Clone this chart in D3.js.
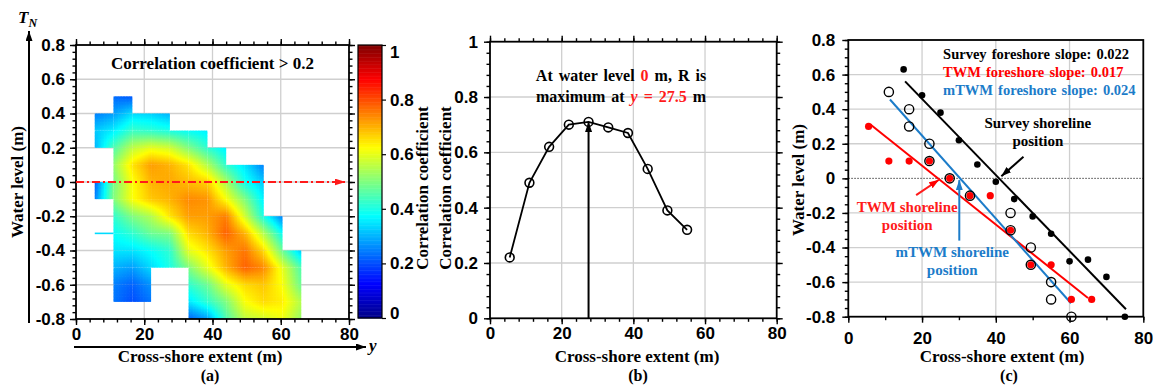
<!DOCTYPE html>
<html><head><meta charset="utf-8">
<script src="https://cdn.jsdelivr.net/npm/d3@7"></script>
<style>
body{margin:0;background:#fff;overflow:hidden;}
svg{display:block;font-family:"Liberation Serif","Times New Roman",serif;font-weight:bold;}
</style></head><body>
<svg id="fig" width="1153" height="385"></svg>
<script>
// ---------- (a) correlation map: water level (rows) x cross-shore extent (columns) ----------
const extents = [5.5, 11, 16.5, 22, 27.5, 33, 38.5, 44, 49.5, 55, 60.5, 66];
const levels = [0.5, 0.4, 0.3, 0.2, 0.1, 0, -0.1, -0.2, -0.3, -0.4, -0.5, -0.6, -0.7, -0.8];
const corrP05 = [null, 0.23, 0.21, null, null, null, null, null, null, null, null, null];
const corrP04 = [0.25, 0.28, 0.34, 0.33, 0.30, null, null, null, null, null, null, null];
const corrP03 = [0.32, 0.36, 0.43, 0.42, 0.40, 0.38, 0.36, null, null, null, null, null];
const corrP02 = [0.30, 0.45, 0.56, 0.60, 0.58, 0.50, 0.42, 0.36, null, null, null, null];
const corrP01 = [null, 0.52, 0.65, 0.72, 0.70, 0.65, 0.55, 0.42, 0.35, 0.25, null, null];
const corr000 = [0.22, 0.49, 0.62, 0.70, 0.71, 0.69, 0.67, 0.54, 0.39, 0.32, null, null];
const corrM01 = [0.25, 0.50, 0.62, 0.68, 0.70, 0.74, 0.73, 0.62, 0.50, 0.36, null, null];
const corrM02 = [null, 0.42, 0.50, 0.55, 0.65, 0.72, 0.72, 0.75, 0.58, 0.40, 0.25, null];
const corrM03 = [0.30, 0.38, 0.42, 0.48, 0.50, 0.66, 0.70, 0.78, 0.70, 0.55, 0.38, null];
const corrM04 = [null, 0.35, 0.35, 0.38, 0.42, 0.60, 0.65, 0.72, 0.76, 0.66, 0.48, 0.32];
const corrM05 = [null, 0.30, 0.28, 0.34, 0.40, 0.50, 0.60, 0.70, 0.78, 0.74, 0.60, 0.45];
const corrM06 = [null, 0.25, 0.22, 0.27, null, 0.42, 0.48, 0.60, 0.66, 0.68, 0.62, 0.48];
const corrM07 = [null, 0.24, 0.20, 0.24, null, 0.35, 0.42, 0.50, 0.62, 0.66, 0.64, 0.55];
const corrM08 = [null, null, null, null, null, 0.22, 0.28, 0.45, 0.56, 0.58, 0.61, 0.52];
const corrGrid = [corrP05, corrP04, corrP03, corrP02, corrP01, corr000, corrM01,
                  corrM02, corrM03, corrM04, corrM05, corrM06, corrM07, corrM08];
const colorTicks = [0, 0.2, 0.4, 0.6, 0.8, 1];

// ---------- (b) correlation profile at water level 0 m ----------
const profileX = [5.5, 11, 16.5, 22, 27.5, 33, 38.5, 44, 49.5, 55];
const profileR = [0.22, 0.49, 0.62, 0.70, 0.71, 0.69, 0.67, 0.54, 0.39, 0.32];
const peakExtent = 27.5;

// ---------- (c) shoreline points and fitted foreshore slopes ----------
const surveyX = [15, 20, 25, 30, 35, 40, 45, 50, 55, 60, 65, 70, 75];
const surveyZ = [0.63, 0.48, 0.38, 0.22, 0.08, -0.02, -0.12, -0.22, -0.32, -0.48, -0.47, -0.57, -0.80];
const twmX = [5.5, 11, 16.5, 22, 27.5, 33, 38.5, 44, 49.5, 55, 60.5, 66];
const twmZ = [0.3, 0.1, 0.1, 0.1, 0, -0.1, -0.1, -0.3, -0.5, -0.5, -0.7, -0.7];
const mtwmX = [11, 16.5, 16.5, 22, 22, 27.5, 33, 44, 44, 49.5, 49.5, 55, 55, 60.5];
const mtwmZ = [0.5, 0.4, 0.3, 0.2, 0.1, 0, -0.1, -0.2, -0.3, -0.4, -0.5, -0.6, -0.7, -0.8];
const fitNames = ["Survey", "TWM", "mTWM"];
const fitSlope = [0.022, 0.017, 0.024];
const fitShoreline = [40.9, 24.3, 30.3];
const fitStart = [15.4, 6, 11.3];
const fitEnd = [75.3, 65, 60.4];
const fitColor = ["#000000", "#ff0000", "#1c7cc9"];

const svg = d3.select("#fig");
const FS = 17;
const gridColor = "#cfcfcf";

// arrow heads
const defs = svg.append("defs");
function marker(id, color, w, h) {
  defs.append("marker").attr("id", id).attr("viewBox", `0 0 ${w} ${h}`)
    .attr("refX", w).attr("refY", h / 2).attr("markerWidth", w).attr("markerHeight", h)
    .attr("markerUnits", "userSpaceOnUse").attr("orient", "auto")
    .append("path").attr("d", `M0,0L${w},${h / 2}L0,${h}Z`).attr("fill", color);
}
marker("ahBlack", "#000", 10, 7);
marker("ahRed", "#ff1a1a", 11, 7);
marker("ahBlue", "#1c7cc9", 10, 7);
marker("ahRedC", "#ff0000", 10, 7);

const fmt = d => String(+(+d).toFixed(1));

// gridlines behind a panel
function frame(g, x, y, o) {
  g.append("g").selectAll("line").data(o.gridX).join("line")
    .attr("x1", d => x(d)).attr("x2", d => x(d)).attr("y1", y.range()[0]).attr("y2", y.range()[1])
    .attr("stroke", gridColor).attr("stroke-width", 1.3);
  g.append("g").selectAll("line").data(o.gridY).join("line")
    .attr("y1", d => y(d)).attr("y2", d => y(d)).attr("x1", x.range()[0]).attr("x2", x.range()[1])
    .attr("stroke", gridColor).attr("stroke-width", 1.3);
}
// ticks, labels and box of a panel
function axes(g, x, y, o) {
  const [x0, x1] = x.range(), [y0, y1] = y.range();
  const style = sel => {
    sel.select(".domain").remove();
    sel.selectAll("line").attr("stroke", "#000").attr("stroke-width", 1.4);
    sel.selectAll("text").attr("font-size", FS).attr("font-family", null).attr("fill", "#000");
  };
  g.append("g").attr("transform", `translate(0,${y0})`)
    .call(d3.axisBottom(x).tickValues(o.minorX).tickSize(3.5).tickFormat("")).call(style);
  g.append("g").attr("transform", `translate(0,${y0})`)
    .call(d3.axisBottom(x).tickValues(o.majorX).tickSize(6).tickPadding(o.padX).tickFormat(fmt)).call(style);
  g.append("g").attr("transform", `translate(${x0},0)`)
    .call(d3.axisLeft(y).tickValues(o.minorY).tickSize(3.5).tickFormat("")).call(style);
  g.append("g").attr("transform", `translate(${x0},0)`)
    .call(d3.axisLeft(y).tickValues(o.majorY).tickSize(6).tickPadding(o.padY).tickFormat(fmt)).call(style);
  if (o.mirror) {
    g.append("g").attr("transform", `translate(0,${y1})`)
      .call(d3.axisTop(x).tickValues(o.minorX).tickSize(3.5).tickFormat("")).call(style);
    g.append("g").attr("transform", `translate(0,${y1})`)
      .call(d3.axisTop(x).tickValues(o.majorX).tickSize(6).tickFormat("")).call(style);
    g.append("g").attr("transform", `translate(${x1},0)`)
      .call(d3.axisRight(y).tickValues(o.minorY).tickSize(3.5).tickFormat("")).call(style);
    g.append("g").attr("transform", `translate(${x1},0)`)
      .call(d3.axisRight(y).tickValues(o.majorY).tickSize(6).tickFormat("")).call(style);
  }
  g.append("rect").attr("x", x0).attr("y", y1).attr("width", x1 - x0).attr("height", y0 - y1)
    .attr("fill", "none").attr("stroke", "#000").attr("stroke-width", 1.8);
}
const range = (a, b, s) => d3.range(Math.round((b - a) / s) + 1).map(k => +(a + k * s).toFixed(4));

// ================= (a) =================
const xA = d3.scaleLinear([0, 80], [76, 349]);
const yA = d3.scaleLinear([-0.8, 0.8], [319, 45]);
const gA = svg.append("g");
frame(gA, xA, yA, { gridX: [20, 40, 60], gridY: [-0.6, -0.4, -0.2, 0, 0.2, 0.4, 0.6] });

const jet = d3.scaleLinear().domain([0, 0.125, 0.375, 0.625, 0.875, 1])
  .range(["#000085", "#0000ff", "#00ffff", "#ffff00", "#ff0000", "#800000"]).clamp(true);

const cellOk = (j, i) => j >= 0 && j < levels.length - 1 && i >= 0 && i < extents.length - 1 &&
  [corrGrid[j][i], corrGrid[j][i + 1], corrGrid[j + 1][i], corrGrid[j + 1][i + 1]].every(v => v != null);

// each grid cell with four valid corners is filled by bilinear interpolation
const SUB = 12;
const pieces = [];
for (let j = 0; j < levels.length - 1; j++) {
  for (let i = 0; i < extents.length - 1; i++) {
    if (!cellOk(j, i)) continue;
    const v00 = corrGrid[j][i], v10 = corrGrid[j][i + 1], v01 = corrGrid[j + 1][i], v11 = corrGrid[j + 1][i + 1];
    for (let a = 0; a < SUB; a++) for (let b = 0; b < SUB; b++) {
      const u = (a + 0.5) / SUB, w = (b + 0.5) / SUB;
      const v = v00 * (1 - u) * (1 - w) + v10 * u * (1 - w) + v01 * (1 - u) * w + v11 * u * w;
      pieces.push({
        x0: extents[i] + (extents[i + 1] - extents[i]) * a / SUB,
        x1: extents[i] + (extents[i + 1] - extents[i]) * (a + 1) / SUB,
        y0: levels[j] + (levels[j + 1] - levels[j]) * b / SUB,
        y1: levels[j] + (levels[j + 1] - levels[j]) * (b + 1) / SUB,
        v, lastA: a === SUB - 1, lastB: b === SUB - 1
      });
    }
  }
}
gA.append("g").selectAll("rect").data(pieces).join("rect")
  .attr("x", d => xA(d.x0)).attr("y", d => yA(d.y0))
  .attr("width", d => xA(d.x1) - xA(d.x0) + (d.lastA ? 0 : 0.6))
  .attr("height", d => yA(d.y1) - yA(d.y0) + (d.lastB ? 0 : 0.6))
  .attr("fill", d => jet(d.v));

// isolated horizontal runs of valid nodes
const strands = [];
for (let j = 0; j < levels.length; j++) for (let i = 0; i < extents.length - 1; i++) {
  const a = corrGrid[j][i], b = corrGrid[j][i + 1];
  if (a != null && b != null && !cellOk(j - 1, i) && !cellOk(j, i)) strands.push({ i, j, v: (a + b) / 2 });
}
gA.append("g").selectAll("line").data(strands).join("line")
  .attr("x1", d => xA(extents[d.i])).attr("x2", d => xA(extents[d.i + 1]))
  .attr("y1", d => yA(levels[d.j])).attr("y2", d => yA(levels[d.j]))
  .attr("stroke", d => jet(d.v)).attr("stroke-width", 1.6);

axes(gA, xA, yA, {
  majorX: [0, 20, 40, 60, 80], minorX: range(0, 80, 4),
  majorY: range(-0.8, 0.8, 0.2), minorY: range(-0.8, 0.8, 0.04), padX: 3, padY: 5, mirror: true
});

// water level 0 m reference
gA.append("line").attr("x1", xA(0)).attr("x2", xA(79)).attr("y1", yA(0)).attr("y2", yA(0))
  .attr("stroke", "#ff1a1a").attr("stroke-width", 1.8).attr("stroke-dasharray", "8,3,2,3")
  .attr("marker-end", "url(#ahRed)");

gA.append("text").attr("x", xA(40)).attr("y", 69).attr("text-anchor", "middle")
  .attr("font-size", FS).text("Correlation coefficient > 0.2");

// coordinate arrows
svg.append("line").attr("x1", 29).attr("x2", 29).attr("y1", 323).attr("y2", 31)
  .attr("stroke", "#000").attr("stroke-width", 2).attr("marker-end", "url(#ahBlack)");
svg.append("line").attr("x1", 74).attr("x2", 366).attr("y1", 347).attr("y2", 347)
  .attr("stroke", "#000").attr("stroke-width", 2).attr("marker-end", "url(#ahBlack)");
const tn = svg.append("text").attr("x", 18).attr("y", 23).attr("font-size", FS).attr("font-style", "italic");
tn.append("tspan").text("T");
tn.append("tspan").attr("font-size", 12).attr("dy", 4).text("N");
svg.append("text").attr("x", 369).attr("y", 351).attr("font-size", FS).attr("font-style", "italic").text("y");

svg.append("text").attr("transform", "translate(17,182) rotate(-90)").attr("dy", "0.35em")
  .attr("text-anchor", "middle").attr("font-size", FS).text("Water level (m)");
svg.append("text").attr("x", 200).attr("y", 362).attr("text-anchor", "middle").attr("font-size", FS)
  .text("Cross-shore extent (m)");
svg.append("text").attr("x", 210).attr("y", 381).attr("text-anchor", "middle").attr("font-size", 16).text("(a)");

// colour bar
const cS = d3.scaleLinear([0, 1], [318, 45]);
const cbar = svg.append("g");
const steps = d3.range(0, 1, 1 / 200);
cbar.selectAll("rect").data(steps).join("rect")
  .attr("x", 358).attr("width", 24).attr("y", d => cS(d + 1 / 200)).attr("height", cS(0) - cS(1 / 200) + 0.5)
  .attr("fill", d => jet(d + 1 / 400));
cbar.append("rect").attr("x", 358).attr("y", 45).attr("width", 24).attr("height", 273)
  .attr("fill", "none").attr("stroke", "#000").attr("stroke-width", 1.2);
const cAx = cbar.append("g").attr("transform", "translate(382,0)")
  .call(d3.axisRight(cS).tickValues(colorTicks).tickSize(4).tickPadding(4).tickFormat(fmt));
cAx.select(".domain").remove();
cAx.selectAll("line").attr("stroke", "#000").attr("stroke-width", 1.2);
cAx.selectAll("text").attr("font-size", FS).attr("font-family", null)
  .attr("y", d => d === 1 ? 7 : d === 0 ? -5 : 0);

// ================= (b) =================
const xB = d3.scaleLinear([0, 80], [490, 776.7]);
const yB = d3.scaleLinear([0, 1], [318.3, 41.7]);
const gB = svg.append("g");
frame(gB, xB, yB, { gridX: [20, 40, 60], gridY: [0.2, 0.4, 0.6, 0.8] });
axes(gB, xB, yB, {
  majorX: [0, 20, 40, 60, 80], minorX: range(0, 80, 4),
  majorY: [0, 0.2, 0.4, 0.6, 0.8, 1], minorY: range(0, 1, 0.04), padX: 3, padY: 6, mirror: true
});
const pts = profileX.map((x, k) => [x, profileR[k]]);
gB.append("path").attr("d", d3.line().x(d => xB(d[0])).y(d => yB(d[1]))(pts))
  .attr("fill", "none").attr("stroke", "#000").attr("stroke-width", 1.8);
gB.append("line").attr("x1", xB(peakExtent)).attr("x2", xB(peakExtent))
  .attr("y1", yB(0)).attr("y2", yB(profileR[profileX.indexOf(peakExtent)]))
  .attr("stroke", "#000").attr("stroke-width", 2).attr("marker-end", "url(#ahBlack)");
gB.selectAll("circle").data(pts).join("circle")
  .attr("cx", d => xB(d[0])).attr("cy", d => yB(d[1])).attr("r", 4.4)
  .attr("fill", "none").attr("stroke", "#000").attr("stroke-width", 1.6);

const n1 = gB.append("text").attr("x", 621).attr("y", 81).attr("text-anchor", "middle").attr("font-size", 16)
  .attr("word-spacing", 2);
n1.append("tspan").text("At water level ");
n1.append("tspan").attr("fill", "#ff1a1a").text("0");
n1.append("tspan").text(" m, R is");
const n2 = gB.append("text").attr("x", 621).attr("y", 102).attr("text-anchor", "middle").attr("font-size", 16)
  .attr("word-spacing", 2);
n2.append("tspan").text("maximum at ");
n2.append("tspan").attr("fill", "#ff1a1a").attr("font-style", "italic").text("y");
n2.append("tspan").attr("fill", "#ff1a1a").text(" = " + peakExtent);
n2.append("tspan").text(" m");

[422, 445].forEach(cx => {
  svg.append("text").attr("transform", `translate(${cx},188) rotate(-90)`).attr("dy", "0.35em")
    .attr("text-anchor", "middle").attr("font-size", FS).text("Correlation coefficient");
});
svg.append("text").attr("x", 637).attr("y", 362).attr("text-anchor", "middle").attr("font-size", FS)
  .text("Cross-shore extent (m)");
svg.append("text").attr("x", 638).attr("y", 381).attr("text-anchor", "middle").attr("font-size", 16).text("(b)");

// ================= (c) =================
const xC = d3.scaleLinear([0, 80], [848.3, 1143.3]);
const yC = d3.scaleLinear([-0.8, 0.8], [316.7, 40]);
const gC = svg.append("g");
frame(gC, xC, yC, { gridX: [20, 40, 60], gridY: [-0.6, -0.4, -0.2, 0.2, 0.4, 0.6] });
gC.append("line").attr("x1", xC(0)).attr("x2", xC(80)).attr("y1", yC(0)).attr("y2", yC(0))
  .attr("stroke", "#444").attr("stroke-width", 1).attr("stroke-dasharray", "1.5,1.5");

// fitted lines: z = slope * (shoreline - x)
gC.append("g").selectAll("line").data(fitNames).join("line")
  .attr("x1", (d, k) => xC(fitStart[k])).attr("x2", (d, k) => xC(fitEnd[k]))
  .attr("y1", (d, k) => yC(fitSlope[k] * (fitShoreline[k] - fitStart[k])))
  .attr("y2", (d, k) => yC(fitSlope[k] * (fitShoreline[k] - fitEnd[k])))
  .attr("stroke", (d, k) => fitColor[k]).attr("stroke-width", 2);

gC.append("g").selectAll("circle").data(surveyX.map((x, k) => [x, surveyZ[k]])).join("circle")
  .attr("cx", d => xC(d[0])).attr("cy", d => yC(d[1])).attr("r", 3.3).attr("fill", "#000");
gC.append("g").selectAll("circle").data(twmX.map((x, k) => [x, twmZ[k]])).join("circle")
  .attr("cx", d => xC(d[0])).attr("cy", d => yC(d[1])).attr("r", 3.6).attr("fill", "#ff0000");
gC.append("g").selectAll("circle").data(mtwmX.map((x, k) => [x, mtwmZ[k]])).join("circle")
  .attr("cx", d => xC(d[0])).attr("cy", d => yC(d[1])).attr("r", 4.6)
  .attr("fill", "none").attr("stroke", "#000").attr("stroke-width", 1.4);

axes(gC, xC, yC, {
  majorX: [0, 20, 40, 60, 80], minorX: range(0, 80, 10),
  majorY: range(-0.8, 0.8, 0.2), minorY: range(-0.8, 0.8, 0.05), padX: 9, padY: 7, mirror: false
});

// slope legend
fitNames.forEach((nm, k) => {
  gC.append("text").attr("x", xC(25.7)).attr("y", 58.5 + k * 18).attr("font-size", 14.5).attr("word-spacing", 1.5)
    .attr("fill", fitColor[k]).text(`${nm} foreshore slope: ${fitSlope[k].toFixed(3)}`);
});

// shoreline position annotations
function arrowC(xs, ys, xe, ye, color, m) {
  gC.append("line").attr("x1", xC(xs)).attr("y1", yC(ys)).attr("x2", xC(xe)).attr("y2", yC(ye))
    .attr("stroke", color).attr("stroke-width", 2).attr("marker-end", `url(#${m})`);
}
arrowC(47.5, 0.125, fitShoreline[0] + 0.6, 0.012, "#000", "ahBlack");
arrowC(18.4, -0.097, fitShoreline[1] + 0.3, -0.008, "#ff1a1a", "ahRedC");
arrowC(fitShoreline[2] - 0.2, -0.36, fitShoreline[2] - 0.2, -0.01, "#1c7cc9", "ahBlue");

function label2(x, y, lines, color) {
  lines.forEach((t, k) => gC.append("text").attr("x", xC(x)).attr("y", y + k * 17.5)
    .attr("text-anchor", "middle").attr("font-size", 15).attr("fill", color).text(t));
}
label2(51.4, 128, ["Survey shoreline", "position"], "#000");
label2(16, 212, ["TWM shoreline", "position"], "#ff1a1a");
label2(28.2, 257, ["mTWM shoreline", "position"], "#1c7cc9");

svg.append("text").attr("transform", "translate(798,180) rotate(-90)").attr("dy", "0.35em")
  .attr("text-anchor", "middle").attr("font-size", FS).text("Water level (m)");
svg.append("text").attr("x", 1002).attr("y", 362).attr("text-anchor", "middle").attr("font-size", FS)
  .text("Cross-shore extent (m)");
svg.append("text").attr("x", 1009).attr("y", 381).attr("text-anchor", "middle").attr("font-size", 16).text("(c)");
</script></body></html>
